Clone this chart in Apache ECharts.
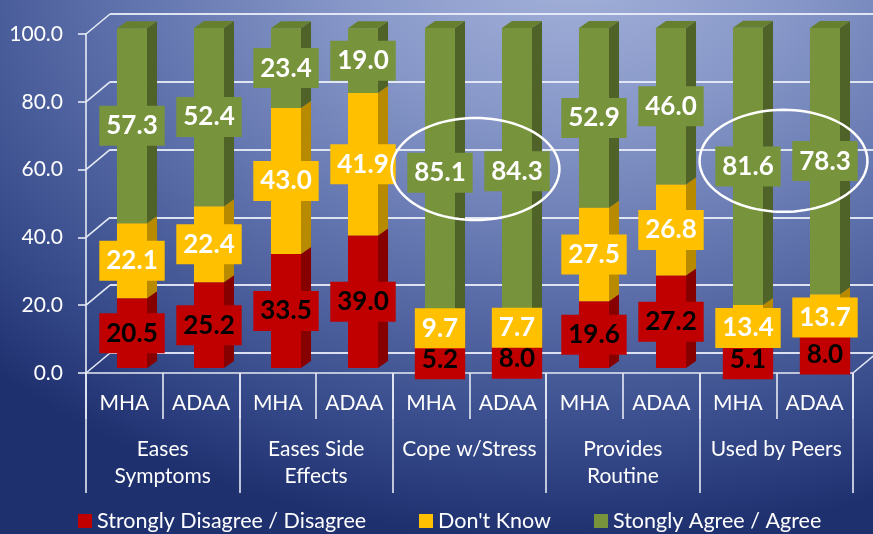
<!DOCTYPE html>
<html><head><meta charset="utf-8">
<script src="https://cdn.jsdelivr.net/npm/echarts@6/dist/echarts.min.js"></script>
<style>
html,body{margin:0;padding:0;background:#1e2f6e;}
#c{width:873px;height:534px;background:radial-gradient(820px 580px at 570px -40px,#a5b3da 0%,#8797c8 28%,#5b6ea9 58%,#3e5291 78%,#1f306f 100%);}
</style>
</head><body><div id="c"></div>
<script>
// ---- data ----
const groups = ['Eases\nSymptoms', 'Eases Side\nEffects', 'Cope w/Stress', 'Provides\nRoutine', 'Used by Peers'];
const categories = ['MHA','ADAA','MHA','ADAA','MHA','ADAA','MHA','ADAA','MHA','ADAA'];
const disagree = [20.5, 25.2, 33.5, 39.0, 5.2, 8.0, 19.6, 27.2, 5.1, 8.0];
const dontKnow = [22.1, 22.4, 43.0, 41.9, 9.7, 7.7, 27.5, 26.8, 13.4, 13.7];
const agree    = [57.3, 52.4, 23.4, 19.0, 85.1, 84.3, 52.9, 46.0, 81.6, 78.3];
const seriesNames = ['Strongly Disagree / Disagree', "Don't Know", 'Stongly Agree / Agree'];
const yTicks = [0, 20, 40, 60, 80, 100];
const highlightGroups = ['Cope w/Stress', 'Used by Peers'];

const stacks = [disagree, dontKnow, agree];
const front = ['#c00000', '#ffc000', '#77933c'];
const side  = ['#860000', '#b88a00', '#4f6228'];
const topc  = ['#a00000', '#e0a800', '#66802f'];
const labelColor = ['#000000', '#ffffff', '#ffffff'];
const FONT = 'Lato, "Open Sans", sans-serif';
const LABEL_H = 40;       // label box height (px)
const MAX_OVERLAP = 9;    // allowed overlap between stacked label boxes (px)
const BOTTOM_ROOM = 11;   // how far below the axis a label box may extend (px)

const chart = echarts.init(document.getElementById('c'), null, {renderer: 'canvas'});

function segRange(k, i) {
  let base = 0;
  for (let j = 0; j < k; j++) base += stacks[j][i];
  return [base, base + stacks[k][i]];
}

function barRender(k) {
  return function (params, api) {
    const i = api.value(0);
    const r = segRange(k, i);
    const p0 = api.coord([i, r[0]]);
    const p1 = api.coord([i, r[1]]);
    const band = api.size([1, 0])[0];
    const hw = band * 0.195;
    const dx = band * 0.13, dy = -7;
    const cx = p0[0], yb = p0[1], yt = p1[1];
    return {
      type: 'group',
      children: [
        {type: 'polygon', shape: {points: [[cx + hw, yb], [cx + hw + dx, yb + dy], [cx + hw + dx, yt + dy], [cx + hw, yt]]}, style: {fill: side[k]}},
        {type: 'polygon', shape: {points: [[cx - hw, yt], [cx + hw, yt], [cx + hw + dx, yt + dy], [cx - hw + dx, yt + dy]]}, style: {fill: topc[k]}},
        {type: 'rect', shape: {x: cx - hw, y: yt, width: 2 * hw, height: yb - yt}, style: {fill: front[k]}}
      ]
    };
  };
}

function labelRender(params, api) {
  const i = api.value(0);
  const zeroY = api.coord([i, 0])[1];
  const pos = [];
  for (let k = 0; k < 3; k++) {
    const r = segRange(k, i);
    pos.push(api.coord([i, (r[0] + r[1]) / 2]));
  }
  // simple collision handling between stacked labels
  for (let k = 0; k < 2; k++) {
    const lower = pos[k], upper = pos[k + 1];
    const overlap = (upper[1] + LABEL_H / 2) - (lower[1] - LABEL_H / 2) - MAX_OVERLAP;
    if (overlap > 0) {
      const room = Math.max(0, (zeroY + BOTTOM_ROOM) - (lower[1] + LABEL_H / 2));
      const down = k === 0 ? Math.min(room, overlap) : 0;
      lower[1] += down;
      upper[1] -= (overlap - down);
    }
  }
  const children = [];
  for (let k = 0; k < 3; k++) {
    children.push({
      type: 'text',
      z2: k,
      style: {
        text: stacks[k][i].toFixed(1),
        x: pos[k][0], y: pos[k][1],
        align: 'center', verticalAlign: 'middle',
        fill: labelColor[k],
        font: 'bold 26px ' + FONT,
        lineHeight: 29,
        backgroundColor: front[k],
        padding: [6, 7, 5, 7]
      }
    });
  }
  return {type: 'group', children: children};
}

function ellipseRender(params, api) {
  const g = groups.indexOf(api.value(0));
  const a = 2 * g, b = 2 * g + 1;
  const ya = api.coord([a, (100 + segRange(2, a)[0]) / 2]);
  const yb = api.coord([b, (100 + segRange(2, b)[0]) / 2]);
  const cx = (ya[0] + yb[0]) / 2 - 3, cy = (ya[1] + yb[1]) / 2 - 3;
  const band = api.size([1, 0])[0];
  const rx = band * 1.09, ry = 51;
  const pts = [];
  for (let t = 0; t < 96; t++) {
    const th = t / 96 * Math.PI * 2;
    pts.push([cx + rx * Math.cos(th), cy + ry * Math.sin(th)]);
  }
  return {type: 'polygon', shape: {points: pts}, style: {fill: 'none', stroke: '#ffffff', lineWidth: 2.5}};
}

function diagRender(params, api) {
  const cs = params.coordSys;
  const v = api.value(1);
  const y = api.coord([0, v])[1];
  const children = [{type: 'line', shape: {x1: cs.x, y1: y, x2: cs.x + 24, y2: y - 20}, style: {stroke: '#e6eaf4', lineWidth: 1.6}}];
  if (v === 0) {
    children.push({type: 'line', shape: {x1: cs.x + cs.width, y1: y, x2: cs.x + cs.width + 24, y2: y - 20}, style: {stroke: '#e6eaf4', lineWidth: 1.6}});
  }
  return {type: 'group', children: children};
}

const lineCol = '#e6eaf4';
const legendCommon = {
  icon: 'rect', itemWidth: 14, itemHeight: 14, padding: 0, top: 510, selectedMode: false,
  textStyle: {color: '#ffffff', fontSize: 21.5, fontFamily: FONT}
};

const option = {
  backgroundColor: 'transparent',
  animation: false,
  grid: [
    {left: 110, right: 0, top: 14, height: 339},        // back wall
    {left: 86, right: 20, top: 34, height: 339},        // front axes
    {left: 93.5, width: 770, top: 28, height: 340}      // bars
  ],
  xAxis: [
    {gridIndex: 0, type: 'value', show: false, min: 0, max: 1},
    {gridIndex: 1, type: 'category', data: categories, position: 'bottom',
     axisLine: {show: true, lineStyle: {color: lineCol, width: 1.6}},
     axisTick: {show: true, interval: 0, length: 46, lineStyle: {color: lineCol, width: 1.6}},
     axisLabel: {interval: 0, margin: 18, color: '#ffffff', fontSize: 21, fontFamily: FONT, lineHeight: 25}},
    {gridIndex: 1, type: 'category', data: groups, position: 'bottom',
     axisLine: {show: false},
     axisTick: {show: true, interval: 0, length: 120, lineStyle: {color: lineCol, width: 1.6}},
     axisLabel: {interval: 0, margin: 63, color: '#ffffff', fontSize: 21, fontFamily: FONT, lineHeight: 27}},
    {gridIndex: 2, type: 'category', data: categories, show: false}
  ],
  yAxis: [
    {gridIndex: 0, type: 'value', min: 0, max: 100, interval: 20,
     axisLine: {show: false}, axisTick: {show: false}, axisLabel: {show: false},
     splitLine: {show: true, lineStyle: {color: 'rgba(235,240,250,0.9)', width: 2}}},
    {gridIndex: 1, type: 'value', min: 0, max: 100, interval: 20,
     axisLine: {show: true, lineStyle: {color: lineCol, width: 1.6}},
     axisTick: {show: true, length: 8, lineStyle: {color: lineCol, width: 1.6}},
     splitLine: {show: false},
     axisLabel: {margin: 23, color: '#ffffff', fontSize: 21, fontFamily: FONT, formatter: v => v.toFixed(1)}},
    {gridIndex: 2, type: 'value', min: 0, max: 100, show: false, splitLine: {show: false}}
  ],
  legend: [
    Object.assign({data: [seriesNames[0]], left: 78}, legendCommon),
    Object.assign({data: [seriesNames[1]], left: 419}, legendCommon),
    Object.assign({data: [seriesNames[2]], left: 594}, legendCommon)
  ],
  series: [
    {type: 'custom', name: 'diag', xAxisIndex: 1, yAxisIndex: 1, renderItem: diagRender,
     data: yTicks.map(v => [0, v]), silent: true, z: 1},
    ...[0, 1, 2].map(k => ({
      type: 'custom', name: seriesNames[k], xAxisIndex: 3, yAxisIndex: 2,
      itemStyle: {color: front[k]},
      renderItem: barRender(k),
      data: stacks[k].map((v, i) => [i, v]), z: 2
    })),
    {type: 'custom', name: 'labels', xAxisIndex: 3, yAxisIndex: 2, renderItem: labelRender,
     data: categories.map((c, i) => [i, 0]), z: 5, silent: true},
    {type: 'custom', name: 'highlight', xAxisIndex: 3, yAxisIndex: 2, renderItem: ellipseRender,
     dimensions: [{name: 'group', type: 'ordinal'}, 'v'],
     data: highlightGroups.map(g => [g, 0]), z: 6, silent: true,
     encode: {x: -1, y: -1}}
  ]
};
chart.setOption(option);
</script>
</body></html>
